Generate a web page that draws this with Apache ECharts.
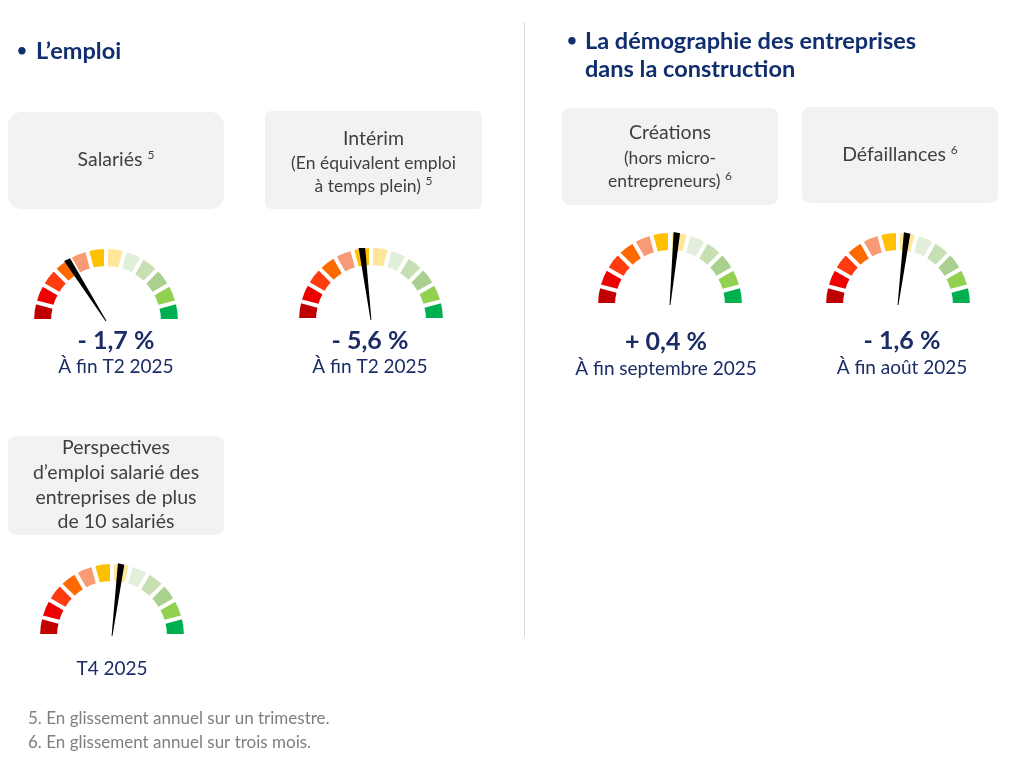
<!DOCTYPE html>
<html>
<head>
<meta charset="utf-8">
<script src="https://cdn.jsdelivr.net/npm/echarts@6/dist/echarts.min.js"></script>
<style>
html,body{margin:0;padding:0;background:#fff;}
#chart{width:1024px;height:770px;}
</style>
</head>
<body>
<div id="chart"></div>
<script>
// ---- data ----
const categories = ['Salariés', 'Intérim', 'Créations', 'Défaillances', 'Perspectives'];
const needlePos = [32, 46, 53, 54, 54]; // position of needle on a 0–100 gauge scale
const valueLabels = ['- 1,7 %', '- 5,6 %', '+ 0,4 %', '- 1,6 %', ''];
const dateLabels = ['À fin T2 2025', 'À fin T2 2025', 'À fin septembre 2025', 'À fin août 2025', 'T4 2025'];
const boxLines = [
  [['Salariés', '5']],
  [['Intérim', ''], ['(En équivalent emploi', ''], ['à temps plein)', '5']],
  [['Créations', ''], ['(hors micro-', ''], ['entrepreneurs)', '6']],
  [['Défaillances', '6']],
  [['Perspectives', ''], ['d’emploi salarié des', ''], ['entreprises de plus', ''], ['de 10 salariés', '']]
];
const sectionTitles = [['L’emploi'], ['La démographie des entreprises', 'dans la construction']];
const footnotes = ['5. En glissement annuel sur un trimestre.', '6. En glissement annuel sur trois mois.'];
const segColors = ['#C00000', '#EE0000', '#FF3C10', '#FF6A00', '#F89B74', '#FFC000',
                   '#FFE699', '#E2EFDA', '#C6E0B4', '#A9D08E', '#92D050', '#00B050'];

// ---- layout ----
const FONT = 'Lato, "Open Sans", sans-serif';
const gaugeLayout = [
  {cx: 106, cy: 321}, {cx: 371, cy: 320}, {cx: 670, cy: 305}, {cx: 898, cy: 305}, {cx: 112, cy: 636}
];
const boxLayout = [
  {x: 8, y: 112, w: 216, h: 97, r: 14, ty: [160], fs: [19.5]},
  {x: 265, y: 111, w: 217, h: 98, r: 6, ty: [139, 163, 186], fs: [19.5, 17.5, 17.5]},
  {x: 562, y: 108, w: 216, h: 97, r: 8, ty: [133, 158, 181], fs: [19.5, 17.5, 17.5]},
  {x: 802, y: 107, w: 196, h: 96, r: 8, ty: [155], fs: [19.5]},
  {x: 8, y: 436, w: 216, h: 99, r: 8, ty: [448, 473, 498, 522], fs: [19.5, 19.5, 19.5, 19.5]}
];
const labelLayout = [
  {x: 116, vy: 341, dy: 367}, {x: 370, vy: 341, dy: 367}, {x: 666, vy: 342, dy: 369},
  {x: 902, vy: 341, dy: 368}, {x: 112, vy: 0, dy: 669}
];
const titleLayout = [[{bx: 22, x: 36, y: 51}], [{bx: 572, x: 585, y: 41}, {bx: null, x: 585, y: 69}]];

const chart = echarts.init(document.getElementById('chart'), null, {renderer: 'canvas'});

const series = categories.map((name, i) => ({
  type: 'gauge',
  name: name,
  center: [gaugeLayout[i].cx, gaugeLayout[i].cy],
  radius: 72,
  startAngle: 180,
  endAngle: 0,
  min: 0,
  max: 100,
  splitNumber: 12,
  axisLine: {lineStyle: {width: 17, color: segColors.map((c, k) => [(k + 1) / segColors.length, c])}},
  splitLine: {show: true, distance: -18, length: 20, lineStyle: {color: '#ffffff', width: 4}},
  axisTick: {show: false},
  axisLabel: {show: false},
  pointer: {
    show: true,
    icon: 'path://M0.5,0 L9.5,1 L5.6,100 L4.4,100 Z',
    length: 73,
    width: 6.5,
    offsetCenter: [0, 0],
    keepAspect: false,
    itemStyle: {color: '#000000'}
  },
  anchor: {show: false},
  title: {show: false},
  detail: {show: false},
  data: [{value: needlePos[i], name: name}]
}));

const graphics = [];
// divider
graphics.push({type: 'line', shape: {x1: 524.5, y1: 22, x2: 524.5, y2: 637}, style: {stroke: '#D9D9D9', lineWidth: 1}});
// section titles
sectionTitles.forEach((lines, i) => {
  lines.forEach((t, j) => {
    const p = titleLayout[i][j];
    if (p.bx !== null) {
      graphics.push({type: 'text', style: {text: '•', x: p.bx, y: p.y, textAlign: 'center', textVerticalAlign: 'middle', font: 'bold 17px ' + FONT, fill: '#112E6E'}});
    }
    graphics.push({type: 'text', style: {text: t, x: p.x, y: p.y, font: 'bold 23.5px ' + FONT, fill: '#112E6E', textVerticalAlign: 'middle'}});
  });
});

// boxes
boxLines.forEach((lines, i) => {
  const b = boxLayout[i];
  graphics.push({type: 'rect', shape: {x: b.x, y: b.y, width: b.w, height: b.h, r: b.r}, style: {fill: '#F2F2F2'}});
  lines.forEach((ln, j) => {
    const fs = b.fs[j];
    const txt = ln[1] ? '{a|' + ln[0] + ' }{s|' + ln[1] + '}' : '{a|' + ln[0] + '}';
    graphics.push({
      type: 'text',
      style: {
        text: txt,
        x: b.x + b.w / 2,
        y: b.ty[j],
        textAlign: 'center',
        textVerticalAlign: 'middle',
        rich: {
          a: {fontSize: fs, fontFamily: FONT, fill: '#3F3F3F', color: '#3F3F3F'},
          s: {fontSize: 12, fontFamily: FONT, fill: '#3F3F3F', color: '#3F3F3F', padding: [0, 0, 9, 0]}
        }
      }
    });
  });
});

// value + date labels
categories.forEach((c, i) => {
  const l = labelLayout[i];
  if (valueLabels[i]) {
    graphics.push({type: 'text', style: {text: valueLabels[i], x: l.x, y: l.vy, textAlign: 'center', textVerticalAlign: 'middle', font: 'bold 25px ' + FONT, fill: '#1B2C66'}});
  }
  graphics.push({type: 'text', style: {text: dateLabels[i], x: l.x, y: l.dy, textAlign: 'center', textVerticalAlign: 'middle', font: '19px ' + FONT, fill: '#1B2C66'}});
});

// footnotes
footnotes.forEach((f, i) => {
  graphics.push({type: 'text', style: {text: f, x: 28, y: 719 + i * 24, textVerticalAlign: 'middle', font: '17px ' + FONT, fill: '#7F7F7F'}});
});

chart.setOption({
  animation: false,
  backgroundColor: '#ffffff',
  graphic: {elements: graphics},
  series: series
});
</script>
</body>
</html>
